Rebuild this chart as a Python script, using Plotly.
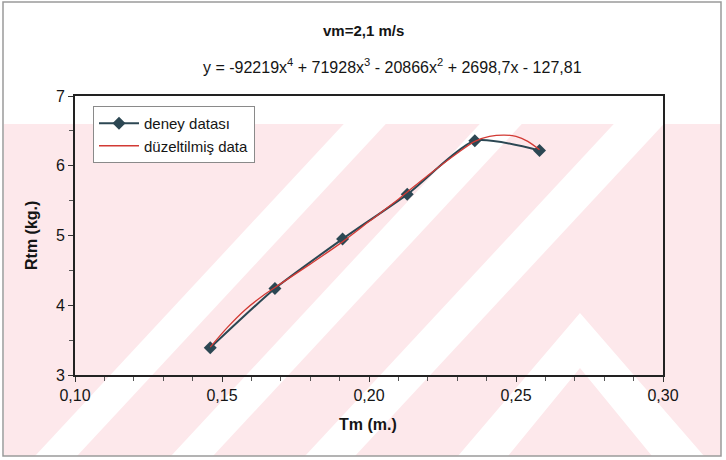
import plotly.graph_objects as go

# ---- data ----
tm_data = [0.146, 0.168, 0.191, 0.213, 0.236, 0.258]
rtm_data = [3.39, 4.24, 4.95, 5.59, 6.36, 6.22]

tm_fit = [0.146, 0.152, 0.158, 0.164, 0.170, 0.180, 0.190, 0.200, 0.210,
          0.220, 0.230, 0.236, 0.241, 0.246, 0.250, 0.254, 0.258]
rtm_fit = [3.40, 3.69, 3.94, 4.14, 4.31, 4.59, 4.88, 5.20, 5.52,
           5.86, 6.18, 6.35, 6.42, 6.44, 6.42, 6.35, 6.23]

series_names = ["deney datası", "düzeltilmiş data"]
title_text = "<b>vm=2,1 m/s</b>"
equation_text = "y = -92219x<sup>4</sup> + 71928x<sup>3</sup> - 20866x<sup>2</sup> + 2698,7x - 127,81"
x_title = "<b>Tm (m.)</b>"
y_title = "<b>Rtm (kg.)</b>"

W, H = 726, 460
L, R, T, B = 75, 663, 96, 375   # plot-area pixel box


def px(x):
    return (x - L) / (R - L)


def py(y):
    return (B - y) / (B - T)


FONT = "Liberation Sans, Arial, sans-serif"
DARK = "#2c4753"
RED = "#d23a34"
PINK = "#fde8eb"
TXT = "#151515"

fig = go.Figure()
fig.add_trace(go.Scatter(
    x=tm_data, y=rtm_data, name=series_names[0], mode="lines+markers",
    line=dict(color=DARK, width=2, shape="spline", smoothing=0.6),
    marker=dict(symbol="diamond", size=10, color=DARK),
))
fig.add_trace(go.Scatter(
    x=tm_fit, y=rtm_fit, name=series_names[1], mode="lines",
    line=dict(color=RED, width=1.3, shape="spline", smoothing=0.8),
))

# ---- decorative watermark of the scanned page ----
shapes = []
shapes.append(dict(type="rect", xref="paper", yref="paper", layer="below",
                   x0=px(4), x1=px(721), y0=py(124), y1=py(456),
                   fillcolor=PINK, line=dict(width=0)))
k = 0.93
ytop, ybot = 124, 456


def band(xb, w, y_lo=ybot, y_hi=ytop):
    # "/" band, xb = left edge at y=ybot
    x_lo = xb + k * (ybot - y_lo)
    x_hi = xb + k * (ybot - y_hi)
    return [(x_lo, y_lo), (x_lo + w, y_lo), (x_hi + w, y_hi), (x_hi, y_hi)]


def path_from(pts):
    s = "M " + " L ".join(f"{px(a):.5f},{py(b):.5f}" for a, b in pts) + " Z"
    return dict(type="path", xref="paper", yref="paper", layer="below",
                path=s, fillcolor="white", line=dict(width=0))


for xb, w in [(35, 42), (171, 42), (305, 50)]:
    shapes.append(path_from(band(xb, w)))
# chevron on the lower right
apex_x, apex_y = 580, 318
shapes.append(path_from([(458, 456), (508, 456), (apex_x, apex_y + 50),
                         (652, 456), (704, 456), (apex_x, apex_y - 5)]))
# outer frame
shapes.append(dict(type="rect", xref="paper", yref="paper", layer="above",
                   x0=px(3), x1=px(721), y0=py(456), y1=py(2),
                   line=dict(color="#9a9a9a", width=1.5)))


def ann(text, x, y, size, angle=0):
    return dict(text=text, x=px(x), y=py(y), xref="paper", yref="paper",
                xanchor="center", yanchor="middle", showarrow=False,
                textangle=angle, font=dict(size=size, family=FONT, color=TXT))


annotations = [
    ann(title_text, 363, 30, 15),
    ann(equation_text, 392, 66, 16),
    ann(x_title, 368, 424, 16),
    ann(y_title, 31, 236, 16, -90),
]

fig.update_layout(
    width=W, height=H,
    margin=dict(l=L, r=W - R, t=T, b=H - B),
    paper_bgcolor="white", plot_bgcolor="rgba(0,0,0,0)",
    separators=",.",
    font=dict(family=FONT, size=16, color=TXT),
    shapes=shapes, annotations=annotations,
    showlegend=True,
    legend=dict(x=px(93), y=py(106), xanchor="left", yanchor="top",
                bgcolor="white", bordercolor="#8a8a8a", borderwidth=1,
                font=dict(size=15, family=FONT, color=TXT),
                tracegroupgap=0, itemwidth=40),
)
fig.update_xaxes(range=[0.10, 0.30], dtick=0.05, tick0=0.10, tickformat=".2f",
                 showgrid=False, zeroline=False, showline=True, mirror=True,
                 linecolor="#222", linewidth=2, ticks="outside", ticklen=5,
                 tickcolor="#333", tickwidth=1,
                 minor=dict(dtick=0.01, ticks="outside", ticklen=4, tickcolor="#555"),
                 tickfont=dict(size=16, family=FONT, color=TXT))
fig.update_yaxes(range=[3, 7], dtick=1, tick0=3,
                 showgrid=False, zeroline=False, showline=True, mirror=True,
                 linecolor="#222", linewidth=2, ticks="outside", ticklen=5,
                 tickcolor="#333", tickwidth=1,
                 minor=dict(dtick=0.5, ticks="outside", ticklen=4, tickcolor="#555"),
                 tickfont=dict(size=16, family=FONT, color=TXT))

fig.write_html("out.html")
